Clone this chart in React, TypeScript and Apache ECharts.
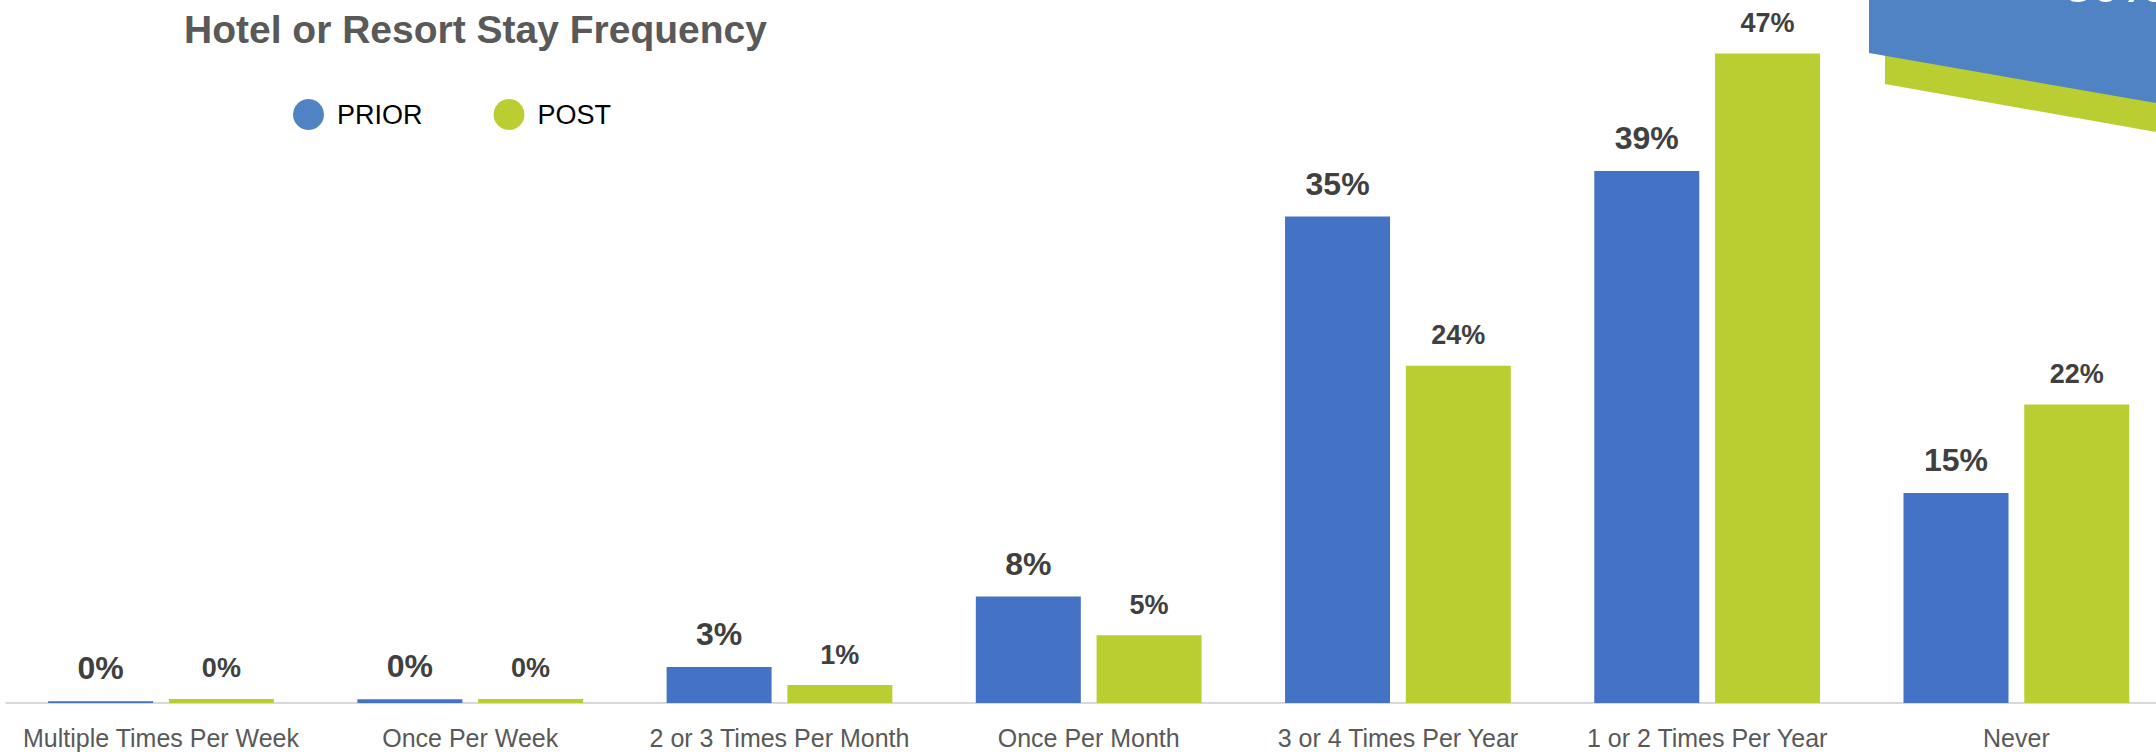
import React, { useEffect, useRef } from "react";
import * as echarts from "echarts";

const categories = [
  "Multiple Times Per Week",
  "Once Per Week",
  "2 or 3 Times Per Month",
  "Once Per Month",
  "3 or 4 Times Per Year",
  "1 or 2 Times Per Year",
  "Never",
];
const priorValues = [0.12, 0.27, 2.6, 7.7, 35.2, 38.5, 15.2];
const postValues = [0.29, 0.29, 1.3, 4.9, 24.4, 47.0, 21.6];
const seriesNames = ["PRIOR", "POST"];
const titleText = "Hotel or Resort Stay Frequency";
const cornerText = "30%";

const FONT = "'Liberation Sans', Arial, sans-serif";
const BLUE = "#4472C4";
const GREEN = "#BBCE31";
const LEGEND_BLUE = "#4F83C4";

export default function App() {
  const ref = useRef<HTMLDivElement>(null);

  useEffect(() => {
    if (!ref.current) return;
    const chart = echarts.init(ref.current, null, { renderer: "svg" });
    const fmt = (p: any) => Math.round(p.value) + "%";
    chart.setOption({
      animation: false,
      backgroundColor: "#ffffff",
      title: {
        text: titleText,
        left: 184,
        top: 10,
        padding: 0,
        textStyle: {
          fontFamily: FONT,
          fontSize: 39,
          fontWeight: "bold",
          color: "#595959",
        },
      },
      legend: {
        left: 293,
        top: 99,
        padding: 0,
        itemWidth: 31,
        itemHeight: 31,
        itemGap: 71,
        icon: "circle",
        data: [
          { name: seriesNames[0], itemStyle: { color: LEGEND_BLUE } },
          { name: seriesNames[1], itemStyle: { color: GREEN } },
        ],
        textStyle: {
          fontFamily: FONT,
          fontSize: 27,
          color: "#000000",
          padding: [0, 0, 0, 8],
        },
      },
      grid: {
        left: 6.4,
        right: 0,
        top: 12,
        bottom: 49,
        containLabel: false,
      },
      xAxis: {
        type: "category",
        data: categories,
        axisTick: { show: false },
        axisLine: { lineStyle: { color: "#d9d9d9", width: 2 } },
        axisLabel: {
          interval: 0,
          margin: 22,
          fontFamily: FONT,
          fontSize: 25,
          color: "#595959",
        },
      },
      yAxis: {
        type: "value",
        min: 0,
        max: 50,
        show: false,
        splitLine: { show: false },
      },
      series: [
        {
          name: seriesNames[0],
          type: "bar",
          data: priorValues,
          barWidth: 105,
          barGap: "15%",
          itemStyle: { color: BLUE },
          label: {
            show: true,
            position: "top",
            distance: 17,
            formatter: fmt,
            fontFamily: FONT,
            fontSize: 32,
            fontWeight: "bold",
            color: "#404040",
          },
        },
        {
          name: seriesNames[1],
          type: "bar",
          data: postValues,
          barWidth: 105,
          barGap: "15%",
          itemStyle: { color: GREEN },
          label: {
            show: true,
            position: "top",
            distance: 17,
            formatter: fmt,
            fontFamily: FONT,
            fontSize: 27,
            fontWeight: "bold",
            color: "#404040",
          },
        },
      ],
      graphic: [
        {
          type: "polygon",
          z: 10,
          shape: {
            points: [
              [1885, 40],
              [2200, 40],
              [2200, 139.8],
              [1885, 84],
            ],
          },
          style: { fill: GREEN },
        },
        {
          type: "polygon",
          z: 11,
          shape: {
            points: [
              [1869, -5],
              [2200, -5],
              [2200, 110.7],
              [1869, 53],
            ],
          },
          style: { fill: LEGEND_BLUE },
        },
        {
          type: "text",
          z: 12,
          x: 2064,
          y: 10,
          style: {
            text: cornerText,
            fill: "#ffffff",
            fontFamily: FONT,
            fontSize: 50,
            fontWeight: "bold",
            verticalAlign: "bottom",
          },
        },
      ],
    });
    return () => chart.dispose();
  }, []);

  return (
    <div
      style={{
        position: "fixed",
        left: 0,
        top: 0,
        width: "2156px",
        height: "752px",
        overflow: "hidden",
        background: "#ffffff",
      }}
    >
      <div ref={ref} style={{ width: "2171px", height: "752px" }} />
    </div>
  );
}
